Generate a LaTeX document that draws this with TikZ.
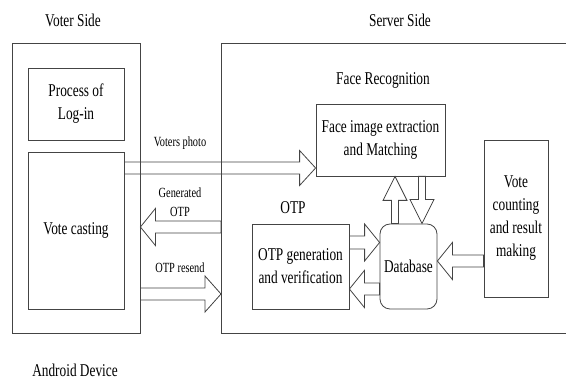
\documentclass[tikz,border=0pt]{standalone}
\usepackage{fontspec}
\setmainfont{Liberation Serif}[FakeStretch=0.74]
\usetikzlibrary{calc}
\definecolor{ln}{HTML}{444444}
\tikzset{
  box/.style={draw=ln, line width=0.8pt, align=center, inner sep=0pt,
    font=\fontsize{18}{23}\selectfont},
  lbl/.style={align=center, inner sep=0pt, font=\fontsize{18}{23}\selectfont},
  slbl/.style={align=center, inner sep=0pt, font=\fontsize{14}{19}\selectfont},
  barr/.style={draw=ln, line width=0.8pt, line join=miter}
}
\newcommand\blockarr[5]{%
  \coordinate (hb) at ($(#2)!#5!(#1)$);
  \draw[barr] ($(#1)!#3!90:(#2)$) -- ($(hb)!#3!90:(#2)$) -- ($(hb)!#4!90:(#2)$)
    -- (#2) -- ($(hb)!#4!-90:(#2)$) -- ($(hb)!#3!-90:(#2)$) -- ($(#1)!#3!-90:(#2)$) -- cycle;
}
\begin{document}
\begin{tikzpicture}[x=1pt,y=-1pt]
\useasboundingbox (0,0) rectangle (566,379);
% outer boxes
\node[box, minimum width=128pt, minimum height=290pt] (voter) at (76,188) {};
\draw[ln, line width=0.8pt] (580,43) -- (221,43) -- (221,333) -- (580,333);
\coordinate (srvw) at (221,188);
% inner boxes
\node[box, minimum width=96pt, minimum height=72pt] (login) at (76,104) {Process of\\Log-in};
\node[box, minimum width=96pt, minimum height=157pt] (vote) at (76,230.5) {Vote casting};
\node[box, minimum width=129pt, minimum height=72pt] (face) at (380.5,140) {Face image extraction\\and Matching};
\node[box, minimum width=64pt, minimum height=157pt] (vc) at (516,218.5) {Vote\\counting\\and result\\making};
\node[box, minimum width=97pt, minimum height=85pt] (otp) at (300.5,266.5) {OTP generation\\and verification};
\node[box, rounded corners=10pt, minimum width=57pt, minimum height=85pt] (db) at (408.5,266.5) {Database};
% labels
\node[lbl] (vs) at (73,20) {Voter Side};
\node[lbl] (ss) at (400,20) {Server Side};
\node[lbl] (fr) at (383,80) {Face Recognition};
\node[lbl] (otpl) at (293,208) {OTP};
\node[lbl] (ad) at (75,370) {Android Device};
\node[slbl] (vpl) at (180,143) {Voters photo};
\node[slbl] (gol) at (180,202) {Generated\\OTP};
\node[slbl] (orl) at (180,268) {OTP resend};
% arrow end coordinates
\coordinate (a1s) at ([yshift=62.5pt]vote.east);
\coordinate (a1t) at (face.west |- a1s);
\coordinate (a2s) at (221,227);
\coordinate (a2t) at (voter.east |- a2s);
\coordinate (a3s) at (voter.east |- 0,294);
\coordinate (a3t) at (srvw |- a3s);
\coordinate (a4s) at ([yshift=24pt]otp.east);
\coordinate (a4t) at (db.west |- a4s);
\coordinate (a5s) at ([yshift=-22.5pt]db.west);
\coordinate (a5t) at (otp.east |- a5s);
\coordinate (a6s) at ([xshift=-13.5pt]db.north);
\coordinate (a6t) at (a6s |- face.south);
\coordinate (a7s) at ([xshift=13.5pt]db.north |- face.south);
\coordinate (a7t) at ([xshift=13.5pt]db.north);
\coordinate (a8s) at ([yshift=-42.5pt]vc.west);
\coordinate (a8t) at (db.east |- a8s);
% block arrows
\blockarr{a1s}{a1t}{6pt}{17.5pt}{16pt}
\blockarr{a2s}{a2t}{6pt}{18.5pt}{15pt}
\blockarr{a3s}{a3t}{6pt}{18pt}{16pt}
\blockarr{a4s}{a4t}{6.5pt}{18.5pt}{15pt}
\blockarr{a5s}{a5t}{6pt}{18.5pt}{15pt}
\blockarr{a6s}{a6t}{3.5pt}{12pt}{24pt}
\blockarr{a7s}{a7t}{3.5pt}{12pt}{24pt}
\blockarr{a8s}{a8t}{6pt}{18.5pt}{15pt}
\end{tikzpicture}
\end{document}
